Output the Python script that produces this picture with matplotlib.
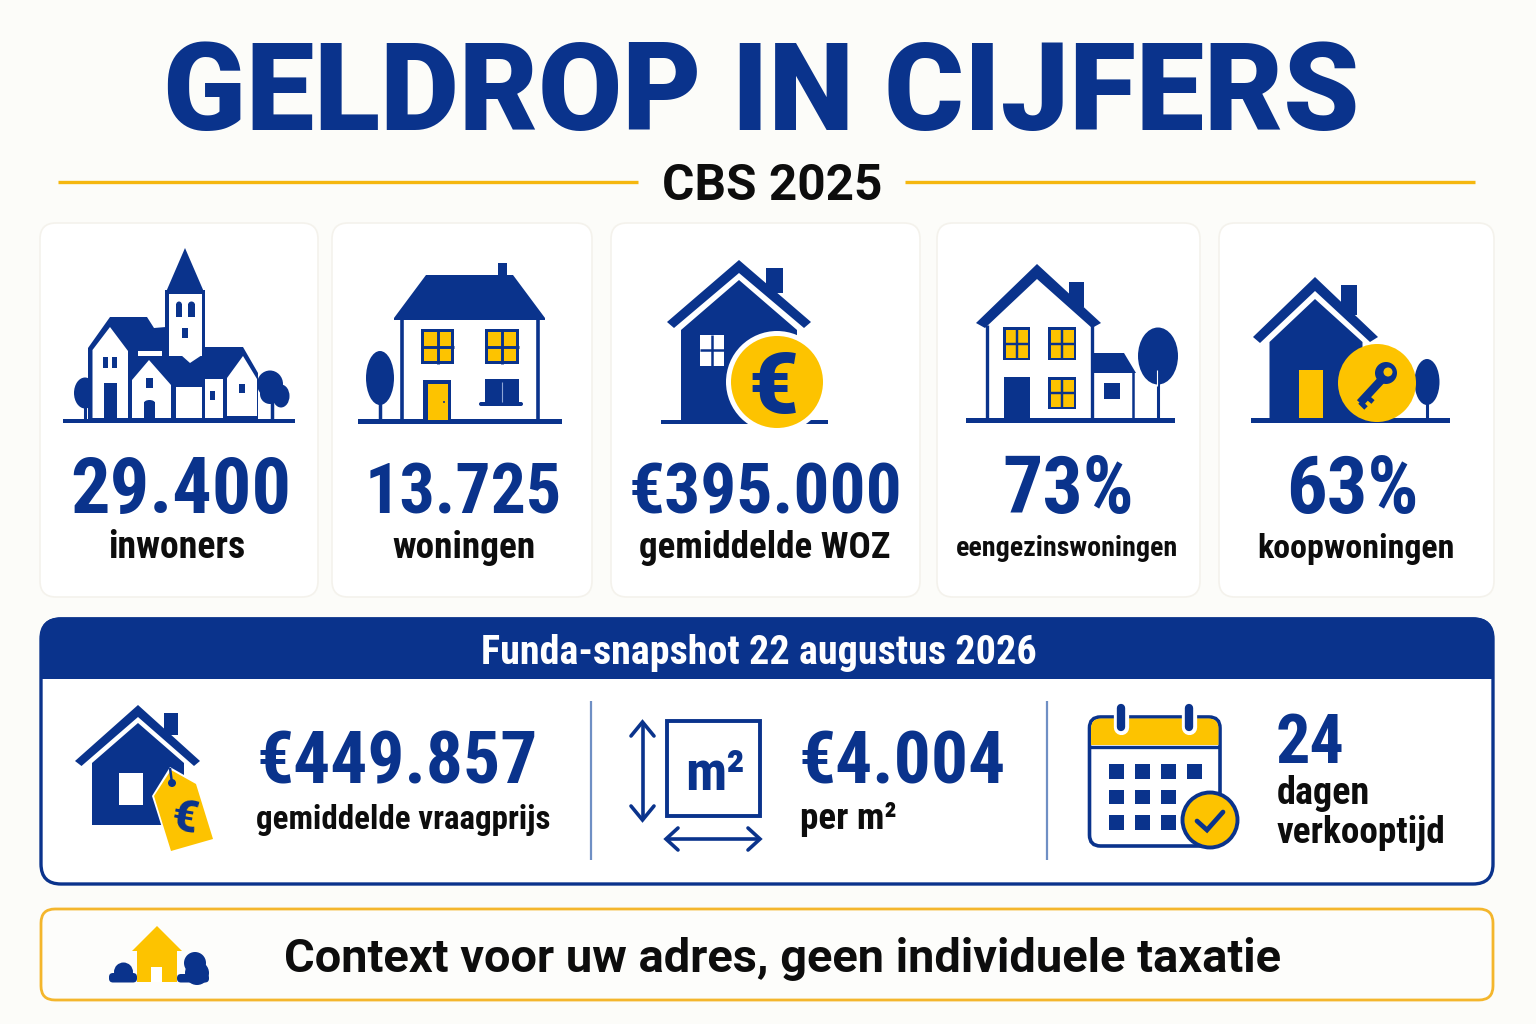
import matplotlib
matplotlib.use('Agg')
import matplotlib.pyplot as plt
from matplotlib import font_manager
from matplotlib.patches import Circle, Ellipse, FancyBboxPatch, Polygon, Rectangle

BLUE = '#0a338c'
YELLOW = '#fdc300'
BLACK = '#0d0d0d'
WHITE = '#ffffff'

# the numbers on the poster
title = 'GELDROP IN CIJFERS'
subtitle = 'CBS 2025'
cbs_values = ['29.400', '13.725', '€395.000', '73%', '63%']
cbs_labels = ['inwoners', 'woningen', 'gemiddelde WOZ', 'eengezinswoningen', 'koopwoningen']
funda_header = 'Funda-snapshot 22 augustus 2026'
funda_values = ['€449.857', '€4.004', '24']
funda_labels = ['gemiddelde vraagprijs', 'per m²', 'dagen', 'verkooptijd']
note = 'Context voor uw adres, geen individuele taxatie'

names = {f.name for f in font_manager.fontManager.ttflist}
family = 'Roboto Condensed' if 'Roboto Condensed' in names else 'Roboto'

fig = plt.figure(figsize=(15.36, 10.24), dpi=100, facecolor='#fcfcf9')
ax = fig.add_axes([0, 0, 1, 1])
ax.set_xlim(0, 1536)
ax.set_ylim(1024, 0)
ax.axis('off')
renderer = fig.canvas.get_renderer()


def fit(s, x0, x1, base, color=BLACK, weight='bold', size=60, fam=None, **kw):
    # scale the font so the string spans x0..x1
    t = ax.text(x0, base, s, color=color, fontsize=size, fontweight=weight,
                family=fam or family, ha='left', va='baseline', **kw)
    w = t.get_window_extent(renderer).width
    t.set_fontsize(size * (x1 - x0) / w)
    return t


def poly(pts, color=BLUE, z=3):
    ax.add_patch(Polygon(pts, closed=True, fc=color, ec='none', zorder=z))


def rect(x0, y0, x1, y1, color=BLUE, z=3):
    ax.add_patch(Rectangle((x0, y0), x1 - x0, y1 - y0, fc=color, ec='none', zorder=z))


def line(pts, color=BLUE, lw=3, z=3, cap='round'):
    xs, ys = zip(*pts)
    ax.plot(xs, ys, color=color, lw=lw, zorder=z, solid_capstyle=cap, solid_joinstyle='miter')


def oval(cx, cy, w, h, color=BLUE, z=3):
    ax.add_patch(Ellipse((cx, cy), w, h, fc=color, ec='none', zorder=z))


def box(x0, y0, x1, y1, r, fc=WHITE, ec='none', lw=1.0, z=1):
    p = FancyBboxPatch((x0 + r, y0 + r), x1 - x0 - 2 * r, y1 - y0 - 2 * r,
                       boxstyle=f'round,pad={r},rounding_size={r}', fc=fc, ec=ec, lw=lw, zorder=z)
    ax.add_patch(p)
    return p


def grid_window(x0, y0, x1, y1, bar=3, frame=YELLOW):
    rect(x0, y0, x1, y1)
    rect(x0 + bar, y0 + bar, x1 - bar, y1 - bar, frame, 4)
    line([((x0 + x1) / 2, y0), ((x0 + x1) / 2, y1)], lw=bar * 0.7, z=5, cap='butt')
    line([(x0, (y0 + y1) / 2), (x1, (y0 + y1) / 2)], lw=bar * 0.7, z=5, cap='butt')


def chevron(apex, inner, left, left2, right, right2):
    poly([apex, right, right2, inner, left2, left])


# header
fit(title, 163, 1358, 130, BLUE, 'black', 90, 'Roboto')
fit(subtitle, 662, 883, 200, BLACK, 'bold', 36, 'Roboto')
line([(58, 182), (638, 182)], '#f5b70f', 2.4, cap='butt')
line([(905, 182), (1475, 182)], '#f5b70f', 2.4, cap='butt')

# cards
card_x = [(40, 318), (332, 592), (611, 920), (937, 1200), (1219, 1494)]
value_x = [(70, 291), (365, 562), (629, 903), (1002, 1134), (1286, 1419)]
label_x = [(108, 245), (392, 535), (639, 890), (956, 1178), (1257, 1454)]
label_base = [558, 558, 558, 556, 558]
for i in range(5):
    box(card_x[i][0], 223, card_x[i][1], 597, 16, WHITE, '#f4f2ec', 1.2)
    fit(cbs_values[i], value_x[i][0], value_x[i][1], 513, BLUE, 'bold', 60)
    fit(cbs_labels[i], label_x[i][0], label_x[i][1], label_base[i], BLACK, 'bold', 26)

# icon 1: village
rect(63, 418.5, 295, 422.5)
poly([(185, 248), (204, 292), (166, 292)])
rect(165, 290, 205, 365)
rect(169, 294, 202, 355, WHITE, 4)
poly([(88, 348), (110, 317), (147, 317), (154, 328), (166, 327), (168, 360), (185, 357),
      (190, 363), (201, 347), (243, 347), (258, 373), (258, 419), (88, 419)], BLUE, 3)
rect(169, 340, 202, 356, WHITE, 4)
poly([(169, 355), (202, 355), (190, 363), (181, 355)], WHITE, 4)
poly([(92.5, 350), (110, 327), (128, 351), (128, 418), (92.5, 418)], WHITE, 4)
rect(138, 351, 162, 356, WHITE, 4)
poly([(132, 380), (149, 360), (171, 385), (171, 418), (132, 418)], WHITE, 4)
rect(176, 387, 202, 418, WHITE, 4)
rect(205, 379, 223, 418, WHITE, 4)
poly([(227, 378), (243, 356), (257, 379), (257, 416), (227, 416)], WHITE, 4)
for x0, x1 in [(176, 182), (188, 195)]:
    rect(x0, 304, x1, 317, BLUE, 5)
    oval((x0 + x1) / 2, 305, x1 - x0, 7, BLUE, 5)
rect(182, 328, 188, 338, BLUE, 5)
rect(103, 357, 108, 368, BLUE, 5)
rect(112, 357, 117, 368, BLUE, 5)
rect(104, 383, 117, 418, BLUE, 5)
rect(146, 378, 153, 388, BLUE, 5)
rect(144, 402, 155, 418, BLUE, 5)
oval(149.5, 403, 11, 6, BLUE, 5)
rect(210, 391, 215, 400, BLUE, 5)
rect(239, 384, 245, 393, BLUE, 5)
oval(85, 393, 22, 31)
line([(85, 400), (85, 419)], lw=2.2)
oval(270, 384, 26, 27)
oval(281, 396, 17, 23)
oval(270, 394, 20, 20)
line([(272, 400), (272, 419)], lw=2.5)

# icon 2: house with pitched roof
rect(358, 419, 562, 424)
rect(498, 263, 507, 278)
poly([(426, 275), (513, 275), (545, 318), (545, 320), (394, 320), (394, 318)])
line([(402, 318), (402, 420)], lw=2.6, cap='butt')
line([(537.5, 318), (537.5, 420)], lw=2.6, cap='butt')
grid_window(421, 329, 454, 364)
grid_window(485, 329, 519, 364)
rect(423, 380, 451, 420)
rect(427.5, 384, 448, 420, YELLOW, 4)
oval(444, 402, 2, 2, BLUE, 5)
rect(485, 379, 519, 403)
line([(502, 382), (502, 402)], '#8ea6d6', 0.8, 4, 'butt')
box(479, 402, 523, 406, 2, BLUE, z=3)
oval(380, 378, 28, 54)
line([(380, 400), (380, 420)], lw=2.5, cap='butt')

# icon 3: house with euro coin
rect(661, 419.5, 828, 424)
rect(766, 268, 782.5, 293)
chevron((739, 260), (739, 273), (667, 322), (674, 328), (811, 322), (804, 328))
poly([(739, 280), (797, 330), (797, 422), (681, 422), (681, 330)])
rect(700, 335, 723.5, 366, WHITE, 4)
line([(711.7, 335), (711.7, 366)], lw=1.8, z=5, cap='butt')
line([(700, 350), (723.5, 350)], lw=1.8, z=5, cap='butt')
ax.add_patch(Circle((777, 382), 51, fc=WHITE, ec='none', zorder=6))
ax.add_patch(Circle((777, 382), 46, fc=YELLOW, ec='none', zorder=7))
ax.text(773, 381, '€', color=BLUE, fontsize=62, fontweight='black', family='Roboto',
        ha='center', va='center_baseline', zorder=8)

# icon 4: family house with annex
rect(966, 418, 1175, 422.5)
rect(1069, 282, 1084, 307)
chevron((1037, 264), (1037, 279), (976, 323), (985, 328), (1101, 323), (1092, 328))
line([(987, 325), (987, 420)], lw=2.4, cap='butt')
line([(1091.5, 325), (1091.5, 420)], lw=2.4, cap='butt')
grid_window(1003, 327, 1030, 360, 2.5)
grid_window(1048, 327, 1076, 360, 2.5)
grid_window(1048, 377, 1076, 409, 2.5)
rect(1004, 377, 1030, 420)
poly([(1093, 353), (1124, 353), (1136, 373), (1093, 373)])
line([(1133, 372), (1133, 420)], lw=1.8, cap='butt')
rect(1104, 383, 1120, 399)
oval(1158, 356, 40, 57)
line([(1157, 370), (1157, 386)], WHITE, 0.8, 4, 'butt')
line([(1158, 380), (1158, 420)], lw=2.2, cap='butt')

# icon 5: house with key
rect(1251, 418, 1450, 422.5)
rect(1341, 285, 1357, 315)
chevron((1315, 277), (1315, 291), (1253, 337), (1260, 343), (1378, 337), (1370, 342))
poly([(1315, 299), (1362.5, 342), (1362.5, 420), (1269.5, 420), (1269.5, 342)])
rect(1299, 370, 1323, 418, YELLOW, 4)
ax.add_patch(Circle((1377, 383), 39, fc=YELLOW, ec='none', zorder=6))
oval(1427, 382, 25, 46)
line([(1427, 395), (1427, 419)], lw=2.2, cap='butt')
line([(1385, 376), (1360, 403)], lw=6, z=7, cap='butt')
line([(1366, 396), (1373, 402)], lw=3.5, z=7, cap='butt')
line([(1360, 402), (1366, 408)], lw=3.5, z=7, cap='butt')
ax.add_patch(Circle((1386, 373), 11, fc=BLUE, ec='none', zorder=7))
ax.add_patch(Circle((1388, 372), 4.5, fc=YELLOW, ec='none', zorder=8))

# funda panel
box(41, 619, 1493, 884, 20, WHITE, BLUE, 2.4, 1)
head = box(41, 618, 1493, 720, 20, BLUE, BLUE, 1, 2)
head.set_clip_path(Rectangle((30, 610), 1480, 69, transform=ax.transData))
fit(funda_header, 481, 1036, 664, WHITE, 'bold', 34, zorder=3)
line([(591, 701), (591, 860)], '#6f8fc4', 1.6, cap='butt')
line([(1047, 701), (1047, 860)], '#6f8fc4', 1.6, cap='butt')

fit(funda_values[0], 256, 537, 784, BLUE, 'bold', 60)
fit(funda_labels[0], 256, 550, 829, BLACK, 'bold', 30)
fit(funda_values[1], 798, 1005, 784, BLUE, 'bold', 60)
fit(funda_labels[1], 800, 897, 829, BLACK, 'bold', 30)
fit(funda_values[2], 1276, 1345, 763, BLUE, 'bold', 60)
fit(funda_labels[2], 1277, 1370, 804, BLACK, 'bold', 30)
fit(funda_labels[3], 1277, 1446, 843, BLACK, 'bold', 30)

# asking price icon
rect(163.6, 713, 178, 735)
chevron((138, 705), (138, 717), (75, 761), (81.5, 766), (200, 761), (194, 766))
poly([(138, 723), (184, 763), (184, 825), (92, 825), (92, 763)])
rect(119, 773, 143, 805, WHITE, 4)
poly([(170, 767), (198, 783), (215, 840), (170, 853), (152, 796)], WHITE, 5)
poly([(171, 770), (196, 784), (213, 839), (171, 851), (154, 796)], YELLOW, 6)
ax.add_patch(Circle((172, 783), 4, fc=BLUE, ec='none', zorder=7))
line([(170, 768), (172, 783)], lw=1.8, z=7, cap='butt')
ax.text(184, 819, '€', color=BLUE, fontsize=32, fontweight='black', family='Roboto',
        ha='center', va='center', rotation=-10, zorder=8)

# m2 icon
ax.add_patch(Rectangle((666.5, 721), 93, 95, fc=WHITE, ec=BLUE, lw=2.8, zorder=3))
fit('m²', 685, 745, 790, BLUE, 'bold', 40, zorder=4)
line([(642.5, 722), (642.5, 820)], lw=2.6, cap='butt')
line([(631, 736), (642.5, 722), (654, 736)], lw=2.6)
line([(631, 806), (642.5, 820), (654, 806)], lw=2.6)
line([(666, 839), (760, 839)], lw=2.6, cap='butt')
line([(678, 828), (666, 839), (678, 850)], lw=2.6)
line([(748, 828), (760, 839), (748, 850)], lw=2.6)

# calendar icon
box(1089.5, 717, 1220, 846, 11, WHITE, BLUE, 2.6, 3)
yellow_top = box(1091, 718.5, 1218.5, 775, 10, YELLOW, z=4)
yellow_top.set_clip_path(Rectangle((1085, 710), 140, 35, transform=ax.transData))
line([(1090, 747), (1220, 747)], lw=2.4, z=5, cap='butt')
for x in [1121, 1189]:
    line([(x, 708), (x, 727)], WHITE, 11, 5)
    line([(x, 708), (x, 727)], BLUE, 6, 6)
for y0 in [764, 789.5, 815]:
    for x0 in [1109, 1135, 1161, 1187]:
        if x0 == 1187 and y0 > 764:
            continue
        rect(x0, y0, x0 + 14.5, y0 + 14.5, BLUE, 5)
ax.add_patch(Circle((1210, 820), 27.5, fc=YELLOW, ec=BLUE, lw=2.8, zorder=6))
line([(1197, 821), (1207, 830), (1223, 812)], lw=3.4, z=7)

# note bar
box(41, 909, 1493, 1000, 14, '#fdfdfb', '#f4b62c', 2, 1)
poly([(157, 926), (182, 951), (177, 951), (177, 982), (137, 982), (137, 951), (132, 951)], YELLOW)
rect(151, 967, 162, 982, WHITE, 4)
ax.add_patch(Circle((123.5, 972), 9.5, fc=BLUE, ec='none', zorder=3))
box(109, 973, 137, 982.5, 4, BLUE, z=3)
ax.add_patch(Circle((195, 963), 11, fc=BLUE, ec='none', zorder=3))
ax.add_patch(Circle((197, 973), 12, fc=BLUE, ec='none', zorder=3))
box(177, 974, 209, 982.5, 4, BLUE, z=2)
fit(note, 284, 1281, 972, BLACK, 'bold', 44, 'Roboto')

fig.savefig('out.png', dpi=100, facecolor=fig.get_facecolor())
